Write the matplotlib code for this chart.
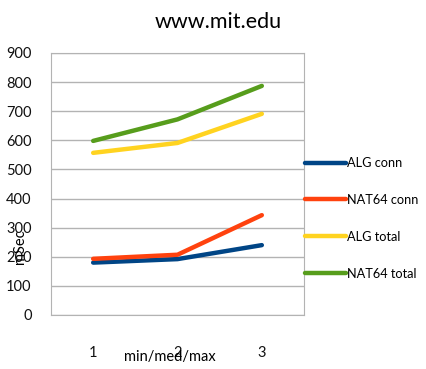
import matplotlib
matplotlib.use("Agg")
import matplotlib.pyplot as plt

plt.rcParams['font.family'] = ['Lato', 'DejaVu Sans']

categories = ["1", "2", "3"]
alg_conn = [180, 192, 240]
nat64_conn = [193, 207, 343]
alg_total = [557, 591, 691]
nat64_total = [598, 672, 787]

series = [
    ("ALG conn", alg_conn, "#004586"),
    ("NAT64 conn", nat64_conn, "#ff420e"),
    ("ALG total", alg_total, "#ffd320"),
    ("NAT64 total", nat64_total, "#579d1c"),
]

fig = plt.figure(figsize=(4.26, 3.69), dpi=100)
ax = fig.add_axes([51/426, 1 - 315/369, 253/426, 262/369])

x = range(1, len(categories) + 1)
for name, vals, col in series:
    ax.plot(x, vals, color=col, lw=3.2, label=name, solid_capstyle='round')

ax.set_xlim(0.5, 3.5)
ax.set_ylim(0, 900)
ax.set_yticks(range(0, 901, 100))
ax.set_xticks(list(x))
ax.set_xticklabels(categories)
ax.yaxis.grid(True, color="#b3b3b3", lw=1)
ax.set_axisbelow(True)
for s in ax.spines.values():
    s.set_color("#b3b3b3")
ax.tick_params(axis='y', length=0, pad=14, labelsize=10.5, labelcolor="#111111")
ax.tick_params(axis='x', length=0, pad=22, labelsize=10.5, labelcolor="#111111")

ax.set_xlabel("min/med/max", fontsize=10.5)
ax.xaxis.set_label_coords(0.47, -0.135)
ax.set_ylabel("mSec", fontsize=10.5)
ax.yaxis.set_label_coords(-0.095, 0.26)

fig.text(218/426, 1 - 22/369, "www.mit.edu", ha='center', va='center', fontsize=15.5)

fig.legend(loc='upper left', bbox_to_anchor=(305/426, 1 - 157/369), frameon=False,
           fontsize=9.2, handlelength=3.2, handletextpad=0.12, labelspacing=1.95,
           borderaxespad=0, borderpad=0)

fig.savefig("out.png", dpi=100)
